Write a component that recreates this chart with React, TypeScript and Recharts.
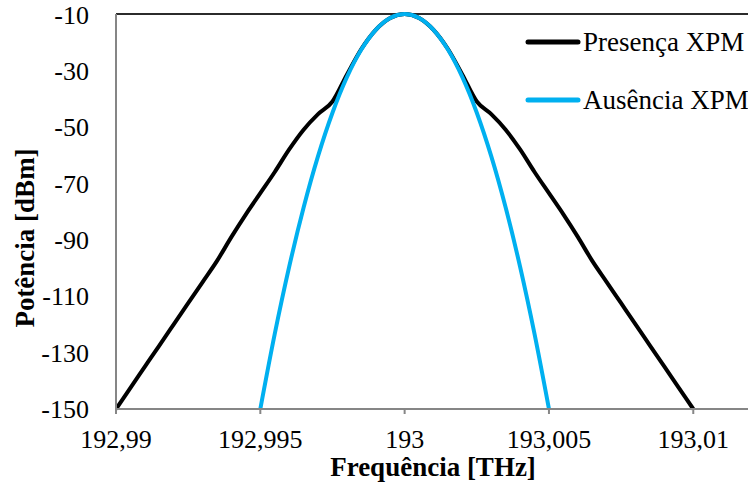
import { LineChart, Line, XAxis, YAxis, Legend, ReferenceLine, Label } from "recharts";

// Spectrum with cross-phase modulation (every 0.5 MHz)
const freqPresenca = [
  192.99, 192.9905, 192.991, 192.9915, 192.992, 192.9925, 192.993, 192.9935, 192.994, 192.9945,
  192.995, 192.9955, 192.996, 192.9965, 192.997, 192.9975, 192.998, 192.9985, 192.999, 192.9995,
  193, 193.0005, 193.001, 193.0015, 193.002, 193.0025, 193.003, 193.0035, 193.004, 193.0045,
  193.005, 193.0055, 193.006, 193.0065, 193.007, 193.0075, 193.008, 193.0085, 193.009, 193.0095,
  193.01,
];
const powerPresenca = [
  -150, -142.5, -135, -127.5, -120, -112.5, -105, -97.5, -89, -81,
  -73.5, -66, -58, -51, -45.5, -41, -31.5, -22.4, -15.6, -11.4,
  -10, -11.4, -15.6, -22.4, -31.5, -41, -45.5, -51, -58, -66,
  -73.5, -81, -89, -97.5, -105, -112.5, -120, -127.5, -135, -142.5,
  -150,
];

// Spectrum without XPM
const freqAusencia = [
  192.995, 192.9955, 192.996, 192.9965, 192.997, 192.9975, 192.998, 192.9985, 192.999, 192.9995,
  193, 193.0005, 193.001, 193.0015, 193.002, 193.0025, 193.003, 193.0035, 193.004, 193.0045,
  193.005,
];
const powerAusencia = [
  -150, -123.4, -99.6, -78.6, -60.4, -45, -32.4, -22.6, -15.6, -11.4,
  -10, -11.4, -15.6, -22.6, -32.4, -45, -60.4, -78.6, -99.6, -123.4,
  -150,
];

const xTicks = [192.99, 192.995, 193, 193.005, 193.01];
const yTicks = [-150, -130, -110, -90, -70, -50, -30, -10];

const SERIES = [
  { name: "Presença XPM", color: "#000000" },
  { name: "Ausência XPM", color: "#00b0f0" },
];

const presencaData = freqPresenca.map((f, i) => ({ freq: f, power: powerPresenca[i] }));
const ausenciaData = freqAusencia.map((f, i) => ({ freq: f, power: powerAusencia[i] }));

const FONT = "'Liberation Serif', 'Times New Roman', serif";
const tickStyle = { fontFamily: FONT, fontSize: 26, fill: "#000" };

const renderLegend = () => (
  <div style={{ fontFamily: FONT, fontSize: 27, color: "#000" }}>
    {SERIES.map((s) => (
      <div key={s.name} style={{ display: "flex", alignItems: "center", height: 58 }}>
        <svg width={56} height={8} style={{ marginRight: 2 }}>
          <line x1={3} y1={4} x2={53} y2={4} stroke={s.color} strokeWidth={5} strokeLinecap="round" />
        </svg>
        <span style={{ whiteSpace: "nowrap" }}>{s.name}</span>
      </div>
    ))}
  </div>
);

export default function App() {
  return (
    <div style={{ position: "absolute", left: 0, top: 0, width: 748, height: 484, overflow: "hidden", background: "#fff" }}>
      <LineChart width={760} height={484} margin={{ top: 14, right: 9, left: 0, bottom: 0 }}>
        <XAxis
          dataKey="freq"
          type="number"
          domain={[192.99, 193.012]}
          ticks={xTicks}
          allowDataOverflow
          height={75}
          tick={tickStyle}
          tickFormatter={(v: number) => String(v).replace(".", ",")}
          stroke="#868686"
          strokeWidth={2}
          tickSize={5}
          tickMargin={16}
        >
          <Label
            content={({ viewBox }: any) => (
              <text
                x={433}
                y={viewBox.y + 67}
                textAnchor="middle"
                style={{ fontFamily: FONT, fontSize: 27, fontWeight: 700 }}
                fill="#000"
              >
                Frequência [THz]
              </text>
            )}
          />
        </XAxis>
        <YAxis
          type="number"
          domain={[-150, -10]}
          ticks={yTicks}
          width={116}
          tick={tickStyle}
          tickLine={false}
          tickSize={0}
          tickMargin={27}
          stroke="#868686"
          strokeWidth={2}
        >
          <Label
            content={() => (
              <text
                x={34}
                y={238}
                textAnchor="middle"
                transform="rotate(-90, 34, 238)"
                style={{ fontFamily: FONT, fontSize: 27, fontWeight: 700 }}
                fill="#000"
              >
                Potência [dBm]
              </text>
            )}
          />
        </YAxis>
        <ReferenceLine y={-10} stroke="#2b2b2b" strokeWidth={2} ifOverflow="extendDomain" />
        <Legend
          layout="vertical"
          align="center"
          verticalAlign="middle"
          content={renderLegend}
          wrapperStyle={{ top: 13, left: 525, width: 240 }}
        />
        <Line
          data={presencaData}
          dataKey="power"
          name={SERIES[0].name}
          type="monotone"
          stroke={SERIES[0].color}
          strokeWidth={4}
          dot={false}
          isAnimationActive={false}
        />
        <Line
          data={ausenciaData}
          dataKey="power"
          name={SERIES[1].name}
          type="monotone"
          stroke={SERIES[1].color}
          strokeWidth={4}
          dot={false}
          isAnimationActive={false}
        />
      </LineChart>
    </div>
  );
}
